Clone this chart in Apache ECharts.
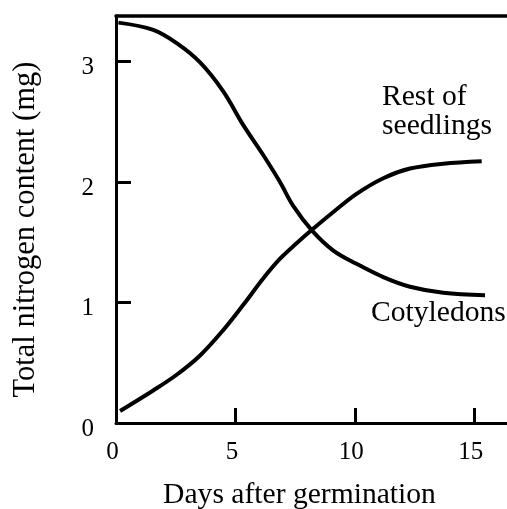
<!DOCTYPE html>
<html>
<head>
<meta charset="utf-8">
<script src="https://cdn.jsdelivr.net/npm/echarts@6/dist/echarts.min.js"></script>
<style>html,body{margin:0;padding:0;background:#fff;}#c{width:507px;height:509px;}</style>
</head>
<body>
<div id="c"></div>
<script>
const xTicks = [0, 5, 10, 15];
const yTicks = [0, 1, 2, 3];
const cotDays = [0.1, 1.56, 2.54, 3.52, 4.49, 5.33, 6.17, 6.86, 7.42, 8.19, 9.10, 10.07, 11.19, 12.31, 13.70, 15.45];
const cotValues = [3.32, 3.26, 3.15, 2.99, 2.75, 2.47, 2.22, 2.00, 1.80, 1.60, 1.43, 1.32, 1.21, 1.13, 1.08, 1.06];
const restDays = [0.17, 1.56, 2.54, 3.52, 4.49, 5.33, 6.17, 6.86, 7.56, 8.19, 9.10, 10.07, 11.19, 12.31, 13.70, 15.31];
const restValues = [0.10, 0.27, 0.40, 0.56, 0.77, 0.98, 1.20, 1.36, 1.49, 1.60, 1.75, 1.90, 2.03, 2.11, 2.15, 2.17];
const xName = 'Days after germination';
const yName = 'Total nitrogen content (mg)';

const FONT = 'Liberation Serif';
const TXT = '29.6px "Liberation Serif"';
const chart = echarts.init(document.getElementById('c'), null, {renderer: 'canvas'});
const pair = (xs, ys) => xs.map((x, i) => [x, ys[i]]);
chart.setOption({
  animation: false,
  backgroundColor: '#fff',
  grid: {left: 116, right: 0, top: 16, bottom: 86, containLabel: false, outerBoundsMode: 'none'},
  xAxis: [{
    type: 'value', min: 0, max: 16.37, interval: 5,
    name: xName, nameLocation: 'middle', nameGap: 57,
    nameTextStyle: {fontFamily: FONT, fontSize: 29.6, color: '#000', padding: [0, 24, 0, 0]},
    axisLine: {show: true, lineStyle: {color: '#000', width: 3}},
    axisTick: {show: true, inside: true, length: 15, customValues: xTicks, lineStyle: {color: '#000', width: 3}},
    axisLabel: {customValues: xTicks, fontFamily: FONT, fontSize: 25, color: '#000', margin: 17, padding: [0, 7, 0, 0]},
    splitLine: {show: false}
  }, {
    type: 'value', min: 0, max: 16.37, position: 'top',
    axisLine: {show: true, onZero: false, lineStyle: {color: '#000', width: 3.5}},
    axisTick: {show: false}, axisLabel: {show: false}, splitLine: {show: false}
  }],
  yAxis: {
    type: 'value', min: 0, max: 3.375, interval: 1,
    name: yName, nameLocation: 'middle', nameGap: 75, nameRotate: 90,
    nameTextStyle: {fontFamily: FONT, fontSize: 30.5, color: '#000', padding: [0, 20, 0, 0]},
    axisLine: {show: true, lineStyle: {color: '#000', width: 3}},
    axisTick: {show: true, inside: true, length: 15, customValues: yTicks, lineStyle: {color: '#000', width: 3}},
    axisLabel: {customValues: yTicks, fontFamily: FONT, fontSize: 25, color: '#000', margin: 22, verticalAlign: 'top', lineHeight: 13},
    splitLine: {show: false}
  },
  series: [{
    name: 'Cotyledons', type: 'line', smooth: 0.35, showSymbol: false, symbol: 'none',
    data: pair(cotDays, cotValues),
    lineStyle: {color: '#000', width: 4}
  }, {
    name: 'Rest of seedlings', type: 'line', smooth: 0.35, showSymbol: false, symbol: 'none',
    data: pair(restDays, restValues),
    lineStyle: {color: '#000', width: 4}
  }],
  graphic: [
    {type: 'text', left: 382, top: 82, style: {text: 'Rest of', font: TXT, fill: '#000'}},
    {type: 'text', left: 382, top: 111, style: {text: 'seedlings', font: TXT, fill: '#000'}},
    {type: 'text', left: 371, top: 298, style: {text: 'Cotyledons', font: TXT, fill: '#000'}}
  ]
});
</script>
</body>
</html>
